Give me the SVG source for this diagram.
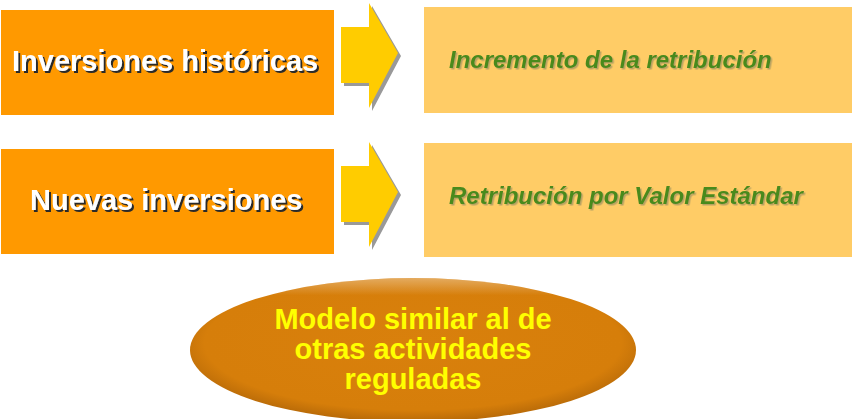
<svg xmlns="http://www.w3.org/2000/svg" width="852" height="419" viewBox="0 0 852 419">
<defs>
<radialGradient id="eg" cx="0.5" cy="0.45" r="0.55">
<stop offset="0" stop-color="#D9800C"/>
<stop offset="0.85" stop-color="#D67E0A"/>
<stop offset="1" stop-color="#B86A08"/>
</radialGradient>
<linearGradient id="eg2" x1="0" y1="0" x2="0" y2="1">
<stop offset="0" stop-color="#FFFFFF" stop-opacity="0.35"/>
<stop offset="0.12" stop-color="#FFFFFF" stop-opacity="0"/>
<stop offset="1" stop-color="#000000" stop-opacity="0"/>
</linearGradient>
<filter id="dsl" x="-5%" y="-20%" width="110%" height="140%">
<feDropShadow dx="2" dy="2" stdDeviation="0.3" flood-color="#2A2A2A" flood-opacity="1"/>
</filter>
<filter id="dsr" x="-5%" y="-20%" width="110%" height="140%">
<feDropShadow dx="1.5" dy="1.5" stdDeviation="0.3" flood-color="#A89860" flood-opacity="0.8"/>
</filter>
<path id="arr" d="M0,24 H28 V0 L57,50 L28,105 V80 H0 Z"/>
</defs>
<style>
.lb{fill:#FF9900}
.rb{fill:#FFCC66}
.lt{font-family:"Liberation Sans",Arial,sans-serif;font-weight:bold;font-size:29px;fill:#FFFFFF;filter:url(#dsl)}
.rt{font-family:"Liberation Sans",Arial,sans-serif;font-weight:bold;font-style:italic;font-size:24px;fill:#4A8A1E;filter:url(#dsr)}
.et{font-family:"Liberation Sans",Arial,sans-serif;font-weight:bold;font-size:29px;fill:#FFFF00;text-anchor:middle}
.ah{fill:#FFCC00}
.sh{fill:#999999}
</style>
<g id="node-inversiones-historicas">
<rect class="lb" x="1" y="10" width="333" height="105"/>
<text class="lt" x="12" y="71">Inversiones históricas</text>
</g>
<g id="node-nuevas-inversiones">
<rect class="lb" x="1" y="149" width="333" height="105"/>
<text class="lt" x="30" y="210">Nuevas inversiones</text>
</g>
<g id="connectors">
<use href="#arr" class="sh" x="344" y="6"/>
<use href="#arr" class="ah" x="341" y="3"/>
<use href="#arr" class="sh" x="344" y="145"/>
<use href="#arr" class="ah" x="341" y="142"/>
</g>
<g id="node-incremento">
<rect class="rb" x="424" y="7" width="428" height="106"/>
<text class="rt" x="449" y="68">Incremento de la retribución</text>
</g>
<g id="node-valor-estandar">
<rect class="rb" x="424" y="143" width="428" height="114"/>
<text class="rt" x="449" y="204">Retribución por Valor Estándar</text>
</g>
<g id="node-modelo">
<ellipse cx="413" cy="350" rx="223" ry="72" fill="url(#eg)"/>
<ellipse cx="413" cy="350" rx="223" ry="72" fill="url(#eg2)"/>
<text class="et" x="413" y="329">Modelo similar al de</text>
<text class="et" x="413" y="359">otras actividades</text>
<text class="et" x="413" y="389">reguladas</text>
</g>
</svg>
